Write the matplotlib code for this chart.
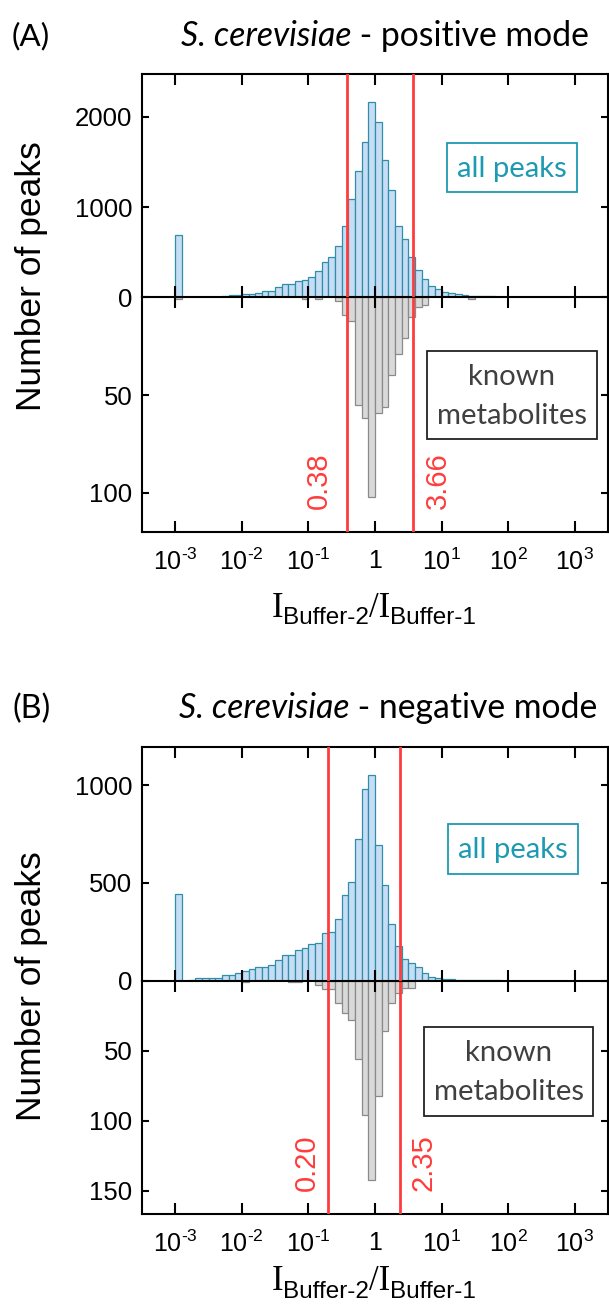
import numpy as np
import matplotlib
matplotlib.use("Agg")
import matplotlib.pyplot as plt
from matplotlib.ticker import NullLocator
from matplotlib.patches import Rectangle

# histogram bins: left edges in log10, 0.1 wide (10 bins per decade)
bin_lo = np.round(np.arange(-3.0, 2.45, 0.1), 1)

# (A) positive mode - all peaks (counts per bin)
pos_all = [690, 0, 2, 3, 4, 5, 7, 11, 22, 26,
           33, 41, 44, 74, 70, 111, 144, 144, 181, 188,
           229, 292, 395, 450, 572, 793, 1085, 1399, 1716, 2166,
           1945, 1520, 1190, 786, 646, 450, 298, 205, 127, 94,
           63, 44, 33, 26, 18, 15, 12, 10, 7, 6,
           5, 4, 3, 0, 2]
# (A) positive mode - known metabolites
pos_known = [1, 0, 0, 0, 0, 0, 0, 0, 0, 0,
             0, 0, 0, 0, 0, 0, 0, 0, 0, 1,
             0, 1, 0, 0, 2, 9, 12, 55, 62, 102,
             59, 56, 40, 29, 21, 10, 5, 4, 0, 0,
             0, 0, 0, 0, 1, 0, 0, 0, 0, 0,
             0, 0, 0, 0, 0]
# (B) negative mode - all peaks
neg_all = [443, 0, 3, 12, 15, 15, 14, 29, 29, 41,
           50, 58, 68, 68, 82, 106, 133, 129, 157, 169,
           186, 191, 245, 249, 315, 440, 506, 726, 978, 1049,
           695, 487, 291, 179, 113, 90, 70, 37, 20, 14,
           10, 7, 5, 5, 4, 3, 3, 2, 2, 0,
           0, 0, 0, 0, 0]
# (B) negative mode - known metabolites
neg_known = [0, 0, 0, 0, 0, 0, 0, 0, 0, 0,
             1, 0, 0, 0, 0, 0, 0, 1, 1, 0,
             0, 3, 6, 6, 16, 23, 28, 56, 96, 142,
             82, 36, 16, 9, 5, 5, 0, 0, 0, 0,
             0, 0, 0, 0, 0, 0, 0, 0, 0, 0,
             0, 0, 0, 0, 0]

pos_cut = [0.38, 3.66]
neg_cut = [0.20, 2.35]
xticks = [1e-3, 1e-2, 1e-1, 1, 1e1, 1e2, 1e3]
xtick_labels = [r"$10^{‐3}$", r"$10^{‐2}$", r"$10^{‐1}$", "1",
                r"$10^{1}$", r"$10^{2}$", r"$10^{3}$"]

W, H = 609, 1315
BLUE, BLUE_EDGE = "#c6ddf5", "#2f8fa8"
GREY, GREY_EDGE = "#d9d9d9", "#8a8a8a"
RED = "#ff3c3c"
TEAL = "#1d9ab2"

plt.rcParams["font.family"] = ["Liberation Sans", "DejaVu Sans"]
plt.rcParams["mathtext.fontset"] = "custom"
plt.rcParams["mathtext.rm"] = "Liberation Sans"
plt.rcParams["mathtext.it"] = "Liberation Sans:italic"
plt.rcParams["mathtext.bf"] = "Liberation Sans:bold"

fig = plt.figure(figsize=(W / 100, H / 100), dpi=100)
renderer = fig.canvas.get_renderer()


def fx(px):
    return px / W


def fy(py):
    return 1 - py / H


def rich(x, y, parts, width=None, ha="center"):
    # parts: (text, text kwargs, baseline shift in px); x, y in px from top-left
    objs = []
    for s, kw, dy in parts:
        t = fig.text(0, 0, s, ha="left", va="baseline", **kw)
        objs.append([t, dy])
    total = sum(t.get_window_extent(renderer).width for t, _ in objs)
    if width is not None:
        k = width / total
        for t, _ in objs:
            t.set_fontsize(t.get_fontsize() * k)
        total = sum(t.get_window_extent(renderer).width for t, _ in objs)
    x0 = x - total / 2 if ha == "center" else x
    for t, dy in objs:
        t.set_position((fx(x0), fy(y + dy)))
        x0 += t.get_window_extent(renderer).width
    return objs


def box(x0, y0, x1, y1, color, lw=1.3):
    fig.add_artist(Rectangle((fx(x0), fy(y1)), fx(x1) - fx(x0), (y1 - y0) / H,
                             transform=fig.transFigure, fill=False,
                             ec=color, lw=lw, zorder=5))


def panel(top, zero, bottom, up_max, dn_max, all_peaks, known, cuts,
          up_ticks, dn_ticks, lab_dx):
    L, R = 142, 608
    ax_dn = fig.add_axes([fx(L), fy(bottom), fx(R) - fx(L), (bottom - zero) / H])
    ax_up = fig.add_axes([fx(L), fy(zero), fx(R) - fx(L), (zero - top) / H],
                         sharex=ax_dn)
    ax_up.patch.set_visible(False)
    ax_dn.patch.set_visible(False)

    left = 10.0 ** bin_lo
    widths = 10.0 ** (bin_lo + 0.1) - left
    a = np.array(all_peaks)
    k = np.array(known)
    ax_up.bar(left[a > 0], a[a > 0], width=widths[a > 0], align="edge",
              color=BLUE, edgecolor=BLUE_EDGE, linewidth=0.9)
    ax_dn.bar(left[k > 0], k[k > 0], width=widths[k > 0], align="edge",
              color=GREY, edgecolor=GREY_EDGE, linewidth=0.9)

    for ax in (ax_up, ax_dn):
        ax.set_xscale("log")
        ax.set_xlim(10 ** -3.5, 10 ** 3.5)
        for s in ax.spines.values():
            s.set_linewidth(1.5)
            s.set_zorder(3)
        ax.tick_params(axis="x", which="major", direction="in", top=True,
                       bottom=True, length=7.8, width=1.5, labelsize=18, pad=12)
        ax.tick_params(axis="y", which="major", direction="in", left=True,
                       right=True, length=5, width=1.5, labelsize=18.5, pad=7)
        for v in cuts:
            ax.axvline(v, color=RED, lw=2, zorder=4)
    ax_dn.set_xticks(xticks, xtick_labels)
    ax_dn.xaxis.set_minor_locator(NullLocator())
    ax_up.tick_params(axis="x", labelbottom=False)
    ax_dn.spines["top"].set_visible(False)

    ax_up.set_ylim(0, up_max)
    ax_up.set_yticks(up_ticks)
    ax_dn.set_ylim(dn_max, 0)
    ax_dn.set_yticks(dn_ticks)

    # threshold labels
    for v, dx, ha in zip(cuts, lab_dx, ["right", "left"]):
        ax_dn.annotate(f"{v:.2f}", xy=(v, 0), xycoords=("data", "axes fraction"),
                       xytext=(dx * 0.72, 23 * 0.72), textcoords="offset points",
                       rotation=90, ha=ha, va="bottom", color=RED, fontsize=21)
    return ax_up, ax_dn


panel(74, 297.3, 532, 2473, 120.1, pos_all, pos_known, pos_cut,
      [0, 1000, 2000], [50, 100], [-14, 11])
panel(746.7, 980.7, 1214, 1196, 166.6, neg_all, neg_known, neg_cut,
      [0, 500, 1000], [50, 100, 150], [-8, 10])

# panel letters and titles
lato = dict(family=["Lato", "DejaVu Sans"], fontsize=20)
lato_it = dict(family=["Lato", "DejaVu Sans"], fontsize=20, style="italic")
title_size = None
for dy, letter, mode in [(0, "(A)", "positive"), (672.7, "(B)", "negative")]:
    rich(12, 45.8 + dy, [(letter, lato, 0)], width=38, ha="left")
    if title_size is None:
        t = rich(385, 45.8 + dy, [("S. cerevisiae", lato_it, 0),
                                  (f" - {mode} mode", lato, 0)], width=409)
        title_size = t[0][0].get_fontsize()
    else:
        rich(388, 45.8 + dy, [("S. cerevisiae", dict(lato_it, fontsize=title_size), 0),
                              (f" - {mode} mode", dict(lato, fontsize=title_size), 0)])

# y labels
for yc in (276, 986):
    fig.text(fx(32), fy(yc), "Number of peaks", rotation=90, ha="center",
             va="center", fontsize=25.5)

# x labels
serif = dict(family=["Liberation Serif"], fontsize=25)
sub = dict(family=["Liberation Sans"], fontsize=17.5)
for yb in (616.7, 1290):
    rich(374, yb, [("I", serif, 0), ("Buffer-2", sub, 7.5), ("/I", serif, 0),
                   ("Buffer-1", sub, 7.5)])

# annotation boxes
box(447.3, 142.7, 576.7, 192.3, TEAL)
rich(512, 177.3, [("all peaks", dict(lato, color=TEAL), 0)], width=110)
box(448.3, 824, 577.7, 874, TEAL)
rich(513, 858.3, [("all peaks", dict(lato, color=TEAL), 0)], width=110)

for x0, y0, x1 in [(427.3, 351, 596.7), (424.3, 1027.3, 593.3)]:
    box(x0, y0, x1, y0 + 88.3, "#222222")
    xc = (x0 + x1) / 2
    m = rich(xc, y0 + 73, [("metabolites", dict(lato, color="#404040"), 0)], width=150)
    size = m[0][0].get_fontsize()
    rich(xc, y0 + 34, [("known", dict(lato, color="#404040", fontsize=size), 0)])

fig.savefig("out.png", dpi=100)
